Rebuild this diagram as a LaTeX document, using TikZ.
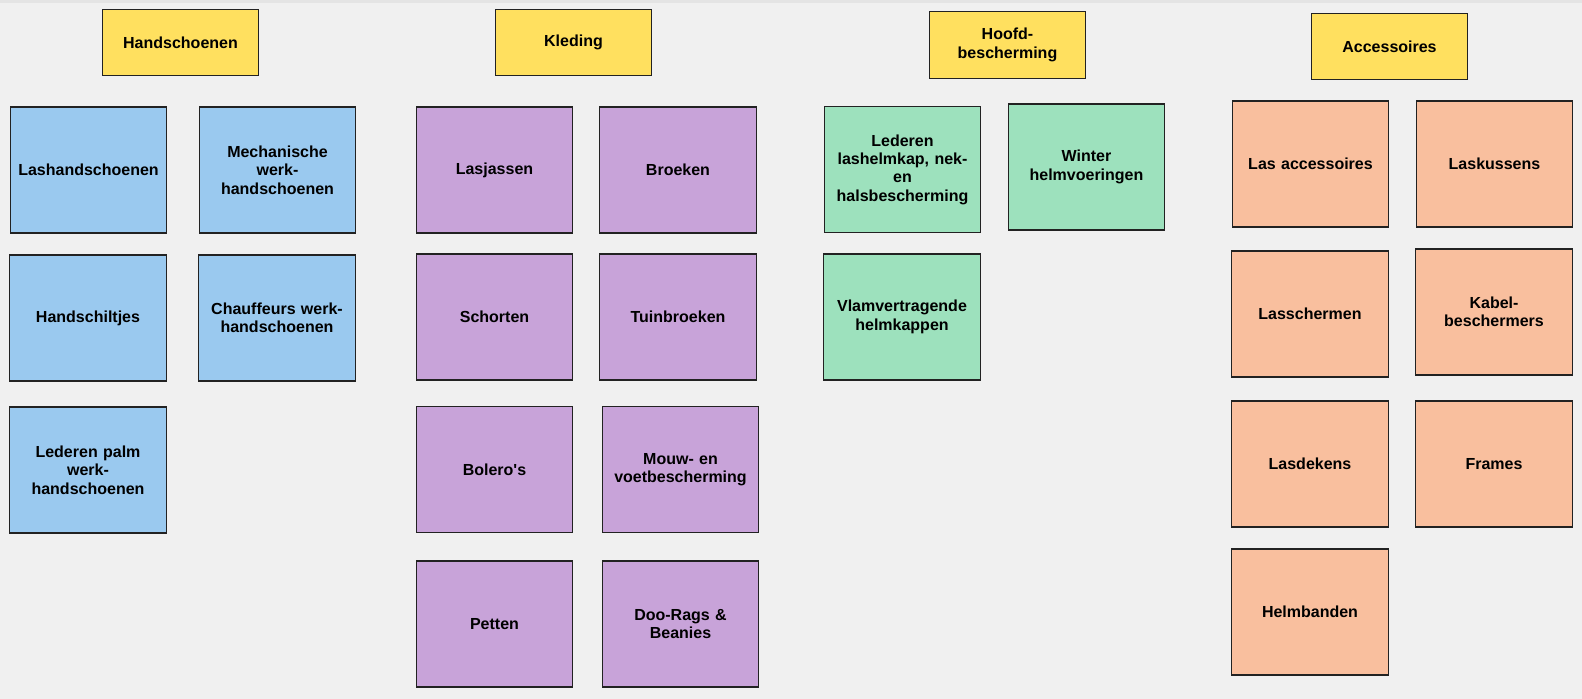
\documentclass[tikz,border=0pt]{standalone}
\usepackage{fontspec}
\setmainfont{Liberation Sans}
\definecolor{bgc}{HTML}{F0F0F0}
\definecolor{topc}{HTML}{E4E4E4}
\definecolor{yel}{HTML}{FFE05F}
\definecolor{blu}{HTML}{9AC9EF}
\definecolor{pur}{HTML}{C8A3D9}
\definecolor{grn}{HTML}{9DE1BD}
\definecolor{ora}{HTML}{F9BF9E}
\definecolor{edge}{HTML}{222222}
\tikzset{
  card/.style={draw=edge, line width=0.8pt, inner sep=2pt, align=center,
    minimum width=117.5pt, minimum height=94.5pt, text width=112pt,
    font=\bfseries\fontsize{12}{13.8}\selectfont},
  head/.style={card, fill=yel, minimum height=50pt},
  bcard/.style={card, fill=blu},
  pcard/.style={card, fill=pur},
  gcard/.style={card, fill=grn},
  ocard/.style={card, fill=ora}
}
\begin{document}
\begin{tikzpicture}[x=0.75pt,y=-0.75pt]
\fill[bgc] (0,0) rectangle (1582,699);
\fill[topc] (0,0) rectangle (1582,3);
\useasboundingbox (0,0) rectangle (1582,699);
% headers
\node[head] (h1) at (180.5,42.5) {Handschoenen};
\node[head] (h2) at (573.5,42.5) {Kleding};
\node[head] (h3) at (1007.5,45) {Hoofd-\\bescherming};
\node[head] (h4) at (1389.5,46.5) {Accessoires};
% Handschoenen
\node[bcard] (a1) at (88.5,170) {Lashandschoenen};
\node[bcard] (a2) at (277.5,170) {Mechanische\\werk-\\handschoenen};
\node[bcard] (a3) at (88,318) {Handschiltjes};
\node[bcard] (a4) at (277,318) {Chauffeurs werk-\\handschoenen};
\node[bcard] (a5) at (88,470) {Lederen palm\\werk-\\handschoenen};
% Kleding
\node[pcard] (b1) at (494.5,170) {Lasjassen};
\node[pcard] (b2) at (678,170) {Broeken};
\node[pcard] (b3) at (494.5,317) {Schorten};
\node[pcard] (b4) at (678,317) {Tuinbroeken};
\node[pcard] (b5) at (494.5,469.5) {Bolero\textquotesingle s};
\node[pcard] (b6) at (680.5,469.5) {Mouw- en\\voetbescherming};
\node[pcard] (b7) at (494.5,624) {Petten};
\node[pcard] (b8) at (680.5,624) {Doo-Rags \&\\Beanies};
% Hoofdbescherming
\node[gcard] (c1) at (902.5,169.5) {Lederen\\lashelmkap, nek-\\en\\halsbescherming};
\node[gcard] (c2) at (1086.5,167) {Winter\\helmvoeringen};
\node[gcard] (c3) at (902,317) {Vlamvertragende\\helmkappen};
% Accessoires
\node[ocard] (d1) at (1310.5,164) {Las accessoires};
\node[ocard] (d2) at (1494.5,164) {Laskussens};
\node[ocard] (d3) at (1310,314) {Lasschermen};
\node[ocard] (d4) at (1494,312) {Kabel-\\beschermers};
\node[ocard] (d5) at (1310,464) {Lasdekens};
\node[ocard] (d6) at (1494,464) {Frames};
\node[ocard] (d7) at (1310,612) {Helmbanden};
\end{tikzpicture}
\end{document}
